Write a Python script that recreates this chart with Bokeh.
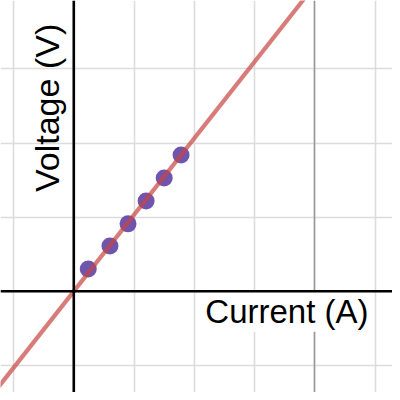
from bokeh.plotting import figure
from bokeh.models import Span, Label, Range1d, FixedTicker, Grid
from bokeh.embed import file_html
from bokeh.resources import INLINE

# data
current = [0.12, 0.30, 0.45, 0.60, 0.75, 0.89]
voltage = [0.30, 0.61, 0.91, 1.22, 1.53, 1.84]
fit_slope = 2.065
fit_x = [-1.0, 3.0]
fit_y = [fit_slope * v for v in fit_x]

x_minor = [i * 0.5 for i in range(-4, 8)]
x_major = [-2, 2, 4]
y_minor = list(range(-3, 6))

p = figure(width=392, height=392, output_backend="svg", toolbar_location=None,
           x_range=Range1d(-0.6083, 2.6448), y_range=Range1d(-1.3657, 3.9244),
           min_border=0, outline_line_color=None)
p.axis.visible = False
p.grid.visible = False

g1 = Grid(dimension=0, ticker=FixedTicker(ticks=x_minor),
          grid_line_color="#dcdcdc", grid_line_width=1.6)
g2 = Grid(dimension=1, ticker=FixedTicker(ticks=y_minor),
          grid_line_color="#dcdcdc", grid_line_width=1.6)
g3 = Grid(dimension=0, ticker=FixedTicker(ticks=x_major),
          grid_line_color="#999999", grid_line_width=1.6)
for g in (g1, g2, g3):
    p.add_layout(g)

p.scatter(current, voltage, size=17, fill_color="#6042a6", fill_alpha=0.9,
          line_color=None)
p.line(fit_x, fit_y, line_color="#c74440", line_alpha=0.7, line_width=4.2)

lab_x = Label(x=1.075, y=-0.27, text="Current (A)", text_font="Liberation Sans",
              text_font_size="33px", text_color="black", text_align="left",
              text_baseline="alphabetic", background_fill_color="white",
              padding=2)
lab_y = Label(x=-0.226, y=1.34, text="Voltage (V)", text_font="Liberation Sans",
              text_font_size="34px", text_color="black", text_align="left",
              text_baseline="alphabetic", angle=90, angle_units="deg")
p.add_layout(lab_x)
p.add_layout(lab_y)

p.add_layout(Span(location=0, dimension="width", line_color="black", line_width=2.6))
p.add_layout(Span(location=0, dimension="height", line_color="black", line_width=2.6))

open("out.html", "w").write(file_html(p, INLINE))
